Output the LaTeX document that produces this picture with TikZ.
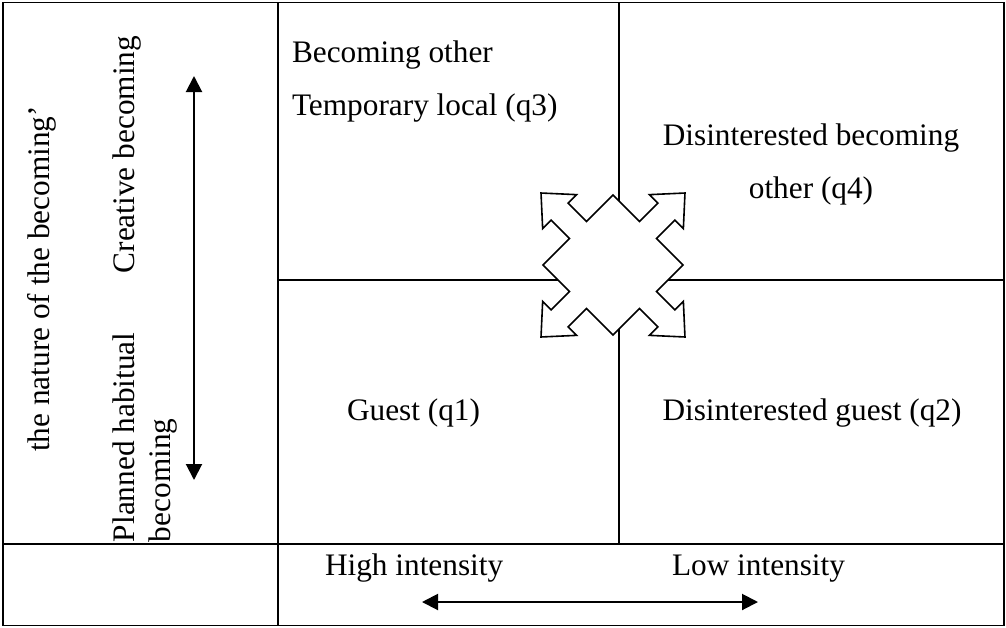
\documentclass[tikz,border=0pt]{standalone}
\usepackage{fontspec}
\setmainfont{Liberation Serif}
\usetikzlibrary{arrows.meta}
\begin{document}
\begin{tikzpicture}[x=1pt,y=-1pt,
  rule/.style={line width=1.8pt},
  lbl/.style={inner sep=0pt, outer sep=0pt, font=\fontsize{31.3pt}{37pt}\selectfont},
  vlbl/.style={lbl, rotate=90},
  dbl/.style={line width=2pt,
    {Triangle[length=16pt,width=16pt]}-{Triangle[length=16pt,width=16pt]}},
  quad/.style={draw, fill=white, line width=1.6pt, line join=miter}]
\useasboundingbox (0,0) rectangle (1006,627);

% table frame and rules
\coordinate (tl) at (3,2.5);
\coordinate (br) at (1004,625.5);
\draw[rule] (tl) rectangle (br);
\draw[rule] (278,2.5) -- (278,625.5);
\draw[rule] (3,544) -- (1004,544);
\draw[rule] (619,2.5) -- (619,544);
\draw[rule] (278,280) -- (1004,280);

% four-way arrow in the middle
\begin{scope}[shift={(613,265)}, rotate=45]
  \def\s{49.5}\def\w{12}\def\b{75.5}\def\h{24}\def\t{101.8}
  \path[quad]
    (\s,-\w) -- (\b,-\w) -- (\b,-\h) -- (\t,0) -- (\b,\h) -- (\b,\w) -- (\s,\w) -- (\s,\s)
    -- (\w,\s) -- (\w,\b) -- (\h,\b) -- (0,\t) -- (-\h,\b) -- (-\w,\b) -- (-\w,\s) -- (-\s,\s)
    -- (-\s,\w) -- (-\b,\w) -- (-\b,\h) -- (-\t,0) -- (-\b,-\h) -- (-\b,-\w) -- (-\s,-\w) -- (-\s,-\s)
    -- (-\w,-\s) -- (-\w,-\b) -- (-\h,-\b) -- (0,-\t) -- (\h,-\b) -- (\w,-\b) -- (\w,-\s) -- (\s,-\s)
    -- cycle;
\end{scope}

% quadrant labels
\node[lbl, anchor=base west] (q3a) at (292,62) {Becoming other};
\node[lbl, anchor=base west] (q3b) at (292,115) {Temporary local (q3)};
\node[lbl, anchor=base] (q4a) at (811,145) {Disinterested becoming};
\node[lbl, anchor=base] (q4b) at (811,198) {other (q4)};
\node[lbl, anchor=base west] (q1) at (347,420) {Guest (q1)};
\node[lbl, anchor=base] (q2) at (812,420) {Disinterested guest (q2)};

% intensity axis
\node[lbl, anchor=base west] (hi) at (325,575) {High intensity};
\node[lbl, anchor=base west] (lo) at (672,575) {Low intensity};
\coordinate (hl) at (422,602);
\coordinate (hr) at (758,602);
\draw[dbl] (hl) -- (hr);

% becoming axis
\node[vlbl, anchor=base] (nature) at (49,279) {the nature of the becoming’};
\node[vlbl, anchor=base east] (cre) at (134,36) {Creative becoming};
\node[vlbl, anchor=base west] (plan) at (134,542) {Planned habitual};
\node[vlbl, anchor=base west] (becom) at (170,542) {becoming};
\coordinate (vt) at (194,76);
\coordinate (vb) at (194,480);
\draw[dbl] (vt) -- (vb);
\end{tikzpicture}
\end{document}
